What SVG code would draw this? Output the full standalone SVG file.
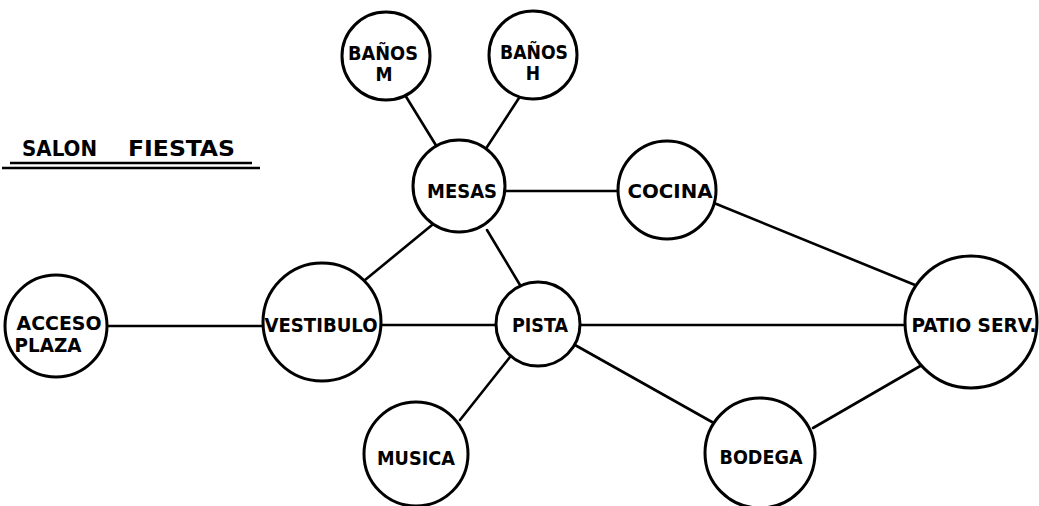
<svg xmlns="http://www.w3.org/2000/svg" width="1039" height="506" viewBox="0 0 1039 506">
  <style>
    .node circle { fill: #fff; stroke: #000; stroke-width: 3; }
    .node text { font-family: "DejaVu Sans Condensed", "DejaVu Sans", "Liberation Sans", sans-serif; font-weight: bold; font-size: 19px; fill: #000; text-anchor: middle; dominant-baseline: central; }
    #links line { stroke: #000; stroke-width: 2.6; stroke-linecap: round; }
    .title { font-family: "DejaVu Sans Condensed", "DejaVu Sans", "Liberation Sans", sans-serif; font-weight: bold; font-size: 22px; fill: #000; }
    .rule { stroke: #000; stroke-width: 2.4; }
  </style>
  <rect width="1039" height="506" fill="#fff"/>

  <!-- title -->
  <g id="title">
    <text class="title" x="22" y="156" textLength="75" lengthAdjust="spacingAndGlyphs">SALON</text>
    <text class="title" x="128" y="156" textLength="107" lengthAdjust="spacingAndGlyphs">FIESTAS</text>
    <line class="rule" x1="10" y1="163" x2="252" y2="163"/>
    <line class="rule" x1="2" y1="168" x2="260" y2="168"/>
  </g>

  <!-- connectors -->
  <g id="links">
    <line x1="405" y1="95" x2="437" y2="147"/>
    <line x1="519" y1="98" x2="487" y2="147"/>
    <line x1="505" y1="191" x2="618" y2="191"/>
    <line x1="432" y1="225" x2="365" y2="280"/>
    <line x1="487" y1="230" x2="520" y2="285"/>
    <line x1="107" y1="326" x2="262" y2="326"/>
    <line x1="382" y1="325" x2="497" y2="325"/>
    <line x1="580" y1="325" x2="905" y2="325"/>
    <line x1="714" y1="203" x2="915" y2="285"/>
    <line x1="510" y1="357" x2="460" y2="420"/>
    <line x1="575" y1="345" x2="712" y2="422"/>
    <line x1="813" y1="428" x2="922" y2="365"/>
  </g>

  <!-- nodes -->
  <g id="banos-m" class="node">
    <circle cx="386" cy="56" r="44"/>
    <text x="383" y="53" textLength="70" lengthAdjust="spacingAndGlyphs">BAÑOS</text>
    <text x="384" y="74">M</text>
  </g>
  <g id="banos-h" class="node">
    <circle cx="533" cy="55" r="44"/>
    <text x="534" y="52" textLength="68" lengthAdjust="spacingAndGlyphs">BAÑOS</text>
    <text x="533" y="73">H</text>
  </g>
  <g id="mesas" class="node">
    <circle cx="459" cy="186" r="46"/>
    <text x="462" y="191" textLength="70" lengthAdjust="spacingAndGlyphs">MESAS</text>
  </g>
  <g id="cocina" class="node">
    <circle cx="667" cy="190" r="49"/>
    <text x="670" y="191" textLength="85" lengthAdjust="spacingAndGlyphs">COCINA</text>
  </g>
  <g id="acceso-plaza" class="node">
    <circle cx="56" cy="326" r="51"/>
    <text x="59" y="323" textLength="85" lengthAdjust="spacingAndGlyphs">ACCESO</text>
    <text x="48" y="345" textLength="67" lengthAdjust="spacingAndGlyphs">PLAZA</text>
  </g>
  <g id="vestibulo" class="node">
    <circle cx="322" cy="322" r="59"/>
    <text x="321" y="325" textLength="113" lengthAdjust="spacingAndGlyphs">VESTIBULO</text>
  </g>
  <g id="pista" class="node">
    <circle cx="538" cy="324" r="42"/>
    <text x="540" y="325" textLength="56" lengthAdjust="spacingAndGlyphs">PISTA</text>
  </g>
  <g id="patio-serv" class="node">
    <circle cx="971" cy="322" r="66"/>
    <text x="974" y="325" textLength="125" lengthAdjust="spacingAndGlyphs">PATIO SERV.</text>
  </g>
  <g id="musica" class="node">
    <circle cx="416" cy="454" r="52"/>
    <text x="416" y="458" textLength="78" lengthAdjust="spacingAndGlyphs">MUSICA</text>
  </g>
  <g id="bodega" class="node">
    <circle cx="760" cy="453" r="55"/>
    <text x="761" y="457" textLength="83" lengthAdjust="spacingAndGlyphs">BODEGA</text>
  </g>
</svg>
